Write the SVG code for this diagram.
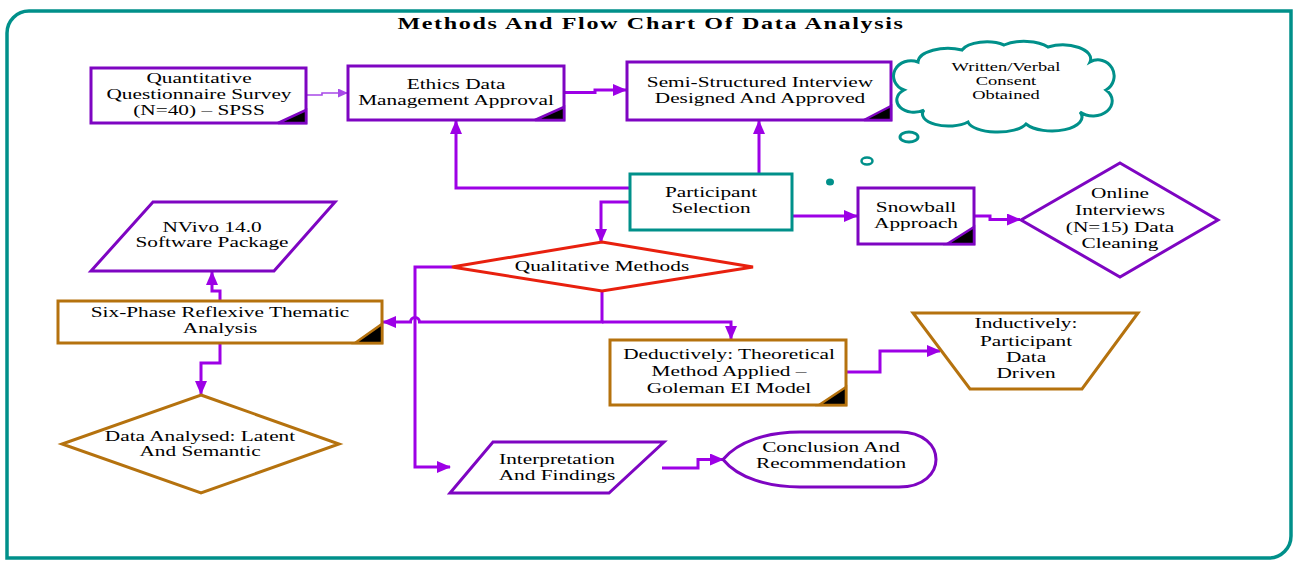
<svg xmlns="http://www.w3.org/2000/svg" width="1301" height="566" viewBox="0 0 1301 566">
<style>
.t{font-family:"Liberation Serif","Times New Roman",serif;font-size:15px;fill:#000;text-anchor:middle}
.ts{font-size:13px}
.title{font-weight:bold;font-size:17px;letter-spacing:1.15px}
.pb{fill:#fff;stroke:#7e05c2;stroke-width:3}
.bb{fill:#fff;stroke:#b5720e;stroke-width:3}
.tb{fill:#fff;stroke:#00908a;stroke-width:3}
.rb{fill:#fff;stroke:#e8200e;stroke-width:3}
.cp{fill:#000;stroke:#7e05c2;stroke-width:2.5;stroke-linejoin:miter}
.cbr{fill:#000;stroke:#b5720e;stroke-width:2.5}
.c{fill:none;stroke:#9d00e6;stroke-width:3}
.cthin{fill:none;stroke:#a84ae8;stroke-width:1.6}
</style>
<defs>
<marker id="ah" markerUnits="userSpaceOnUse" markerWidth="14" markerHeight="12" refX="13" refY="6" orient="auto">
<path d="M0,0 L14,6 L0,12 Z" fill="#9d00e6"/>
</marker>
<marker id="ahs" markerUnits="userSpaceOnUse" markerWidth="10" markerHeight="9" refX="9" refY="4.5" orient="auto">
<path d="M0,0 L10,4.5 L0,9 Z" fill="#a84ae8"/>
</marker>
</defs>
<rect width="1301" height="566" fill="#fff"/>
<path id="border" d="M7,558 L7,33 A22,22 0 0 1 29,11 L1291,11 L1291,536 A22,22 0 0 1 1269,558 Z" fill="none" stroke="#00908a" stroke-width="3.5"/>
<text class="t title" transform="matrix(1.42 0 0 1 651 0)" x="0" y="29">Methods And Flow Chart Of Data Analysis</text>

<g id="connectors">
<path class="cthin" d="M307,95 H322 V93 H347" marker-end="url(#ahs)"/>
<path class="c" d="M565,92.5 H595 V90 H626" marker-end="url(#ah)"/>
<path class="c" d="M630,188 H456 V121" marker-end="url(#ah)"/>
<path class="c" d="M759,174 V121" marker-end="url(#ah)"/>
<path class="c" d="M630,202 H601 V242" marker-end="url(#ah)"/>
<path class="c" d="M793,216 H857" marker-end="url(#ah)"/>
<path class="c" d="M975,216 H990 V219.5 H1020" marker-end="url(#ah)"/>
<path class="c" d="M602,291 V322 H419.5 A4.5,4.5 0 0 0 410.5,322 H383" marker-end="url(#ah)"/>
<path class="c" d="M602,322 H731 V339" marker-end="url(#ah)"/>
<path class="c" d="M452,267 H415 V467 H450" marker-end="url(#ah)"/>
<path class="c" d="M220,301 V291 H212 V272" marker-end="url(#ah)"/>
<path class="c" d="M220,343 V363 H201 V394" marker-end="url(#ah)"/>
<path class="c" d="M847,372 H880 V351 H940" marker-end="url(#ah)"/>
<path class="c" d="M662,468 H698 V459.5 H723" marker-end="url(#ah)"/>
</g>

<g id="quant">
<rect class="pb" x="91" y="68" width="215" height="55"/>
<polygon class="cp" points="278,123 306,110 306,123"/>
<text class="t" transform="matrix(1.42 0 0 1 199 0)"><tspan x="0" y="83">Quantitative</tspan><tspan x="0" y="99">Questionnaire Survey</tspan><tspan x="0" y="115">(N=40) – SPSS</tspan></text>
</g>

<g id="ethics">
<rect class="pb" x="348" y="66" width="216" height="54"/>
<polygon class="cp" points="535,120 564,107 564,120"/>
<text class="t" transform="matrix(1.42 0 0 1 456 0)"><tspan x="0" y="89">Ethics Data</tspan><tspan x="0" y="105">Management Approval</tspan></text>
</g>

<g id="semi">
<rect class="pb" x="627" y="62" width="264" height="58"/>
<polygon class="cp" points="864,120 891,106 891,120"/>
<text class="t" transform="matrix(1.42 0 0 1 760 0)"><tspan x="0" y="87">Semi-Structured Interview</tspan><tspan x="0" y="103">Designed And Approved</tspan></text>
</g>

<g id="cloud">
<path class="tb" d="M904,90 A16,14 0 0 1 918,62 A30,14 0 0 1 962,50 A26,12 0 0 1 1004,45 A28,12 0 0 1 1048,47 A28,14 0 0 1 1090,62 A16,16 0 0 1 1106,90 A18,14 0 0 1 1080,112 A30,14 0 0 1 1026,124 A30,12 0 0 1 968,122 A26,12 0 0 1 924,110 A14,10 0 0 1 904,90 Z"/>
<ellipse cx="909" cy="137" rx="9" ry="5" fill="none" stroke="#00908a" stroke-width="3"/>
<ellipse cx="867" cy="161" rx="5.5" ry="3.5" fill="none" stroke="#00908a" stroke-width="2.5"/>
<ellipse cx="830" cy="182" rx="4" ry="3.5" fill="#00908a"/>
<text class="t ts" transform="matrix(1.42 0 0 1 1006 0)"><tspan x="0" y="71">Written/Verbal</tspan><tspan x="0" y="85">Consent</tspan><tspan x="0" y="99">Obtained</tspan></text>
</g>

<g id="participant">
<rect class="tb" x="630" y="174" width="162" height="56"/>
<text class="t" transform="matrix(1.42 0 0 1 711 0)"><tspan x="0" y="197">Participant</tspan><tspan x="0" y="213">Selection</tspan></text>
</g>

<g id="snowball">
<rect class="pb" x="858" y="188" width="116" height="56"/>
<polygon class="cp" points="947,244 974,227 974,244"/>
<text class="t" transform="matrix(1.42 0 0 1 916 0)"><tspan x="0" y="212">Snowball</tspan><tspan x="0" y="228">Approach</tspan></text>
</g>

<g id="online">
<polygon class="pb" points="1120,163 1218,220 1120,277 1021,220"/>
<text class="t" transform="matrix(1.42 0 0 1 1120 0)"><tspan x="0" y="198">Online</tspan><tspan x="0" y="215">Interviews</tspan><tspan x="0" y="232">(N=15) Data</tspan><tspan x="0" y="248">Cleaning</tspan></text>
</g>

<g id="nvivo">
<polygon class="pb" points="153,202 335,202 274,271 91,271"/>
<text class="t" transform="matrix(1.42 0 0 1 212 0)"><tspan x="0" y="232">NVivo 14.0</tspan><tspan x="0" y="247">Software Package</tspan></text>
</g>

<g id="qualitative">
<polygon class="rb" points="602,242 753,267 602,291 452,267"/>
<text class="t" transform="matrix(1.42 0 0 1 602 0)" x="0" y="271">Qualitative Methods</text>
</g>

<g id="sixphase">
<rect class="bb" x="58" y="301" width="324" height="42"/>
<polygon class="cbr" points="355,343 382,324 382,343"/>
<text class="t" transform="matrix(1.42 0 0 1 220 0)"><tspan x="0" y="317">Six-Phase Reflexive Thematic</tspan><tspan x="0" y="333">Analysis</tspan></text>
</g>

<g id="deductive">
<rect class="bb" x="610" y="340" width="236" height="65"/>
<polygon class="cbr" points="819,405 846,387 846,405"/>
<text class="t" transform="matrix(1.42 0 0 1 729 0)"><tspan x="0" y="359">Deductively: Theoretical</tspan><tspan x="0" y="376">Method Applied –</tspan><tspan x="0" y="393">Goleman EI Model</tspan></text>
</g>

<g id="inductive">
<polygon class="bb" points="913,313 1138,313 1082,389 970,389"/>
<text class="t" transform="matrix(1.42 0 0 1 1026 0)"><tspan x="0" y="328">Inductively:</tspan><tspan x="0" y="346">Participant</tspan><tspan x="0" y="362">Data</tspan><tspan x="0" y="378">Driven</tspan></text>
</g>

<g id="analysed">
<polygon class="bb" points="201,395 339,444 201,493 62,444"/>
<text class="t" transform="matrix(1.42 0 0 1 200 0)"><tspan x="0" y="441">Data Analysed: Latent</tspan><tspan x="0" y="456">And Semantic</tspan></text>
</g>

<g id="interpretation">
<polygon class="pb" points="493,442 664,442 609,493 450,493"/>
<text class="t" transform="matrix(1.42 0 0 1 557 0)"><tspan x="0" y="464">Interpretation</tspan><tspan x="0" y="480">And Findings</tspan></text>
</g>

<g id="conclusion">
<path class="pb" d="M723,459.5 C738,441 768,432 800,432 L899,432 C924,432 936,446 936,459.5 C936,473 924,487 899,487 L800,487 C768,487 738,478 723,459.5 Z"/>
<text class="t" transform="matrix(1.42 0 0 1 831 0)"><tspan x="0" y="452">Conclusion And</tspan><tspan x="0" y="468">Recommendation</tspan></text>
</g>
</svg>
